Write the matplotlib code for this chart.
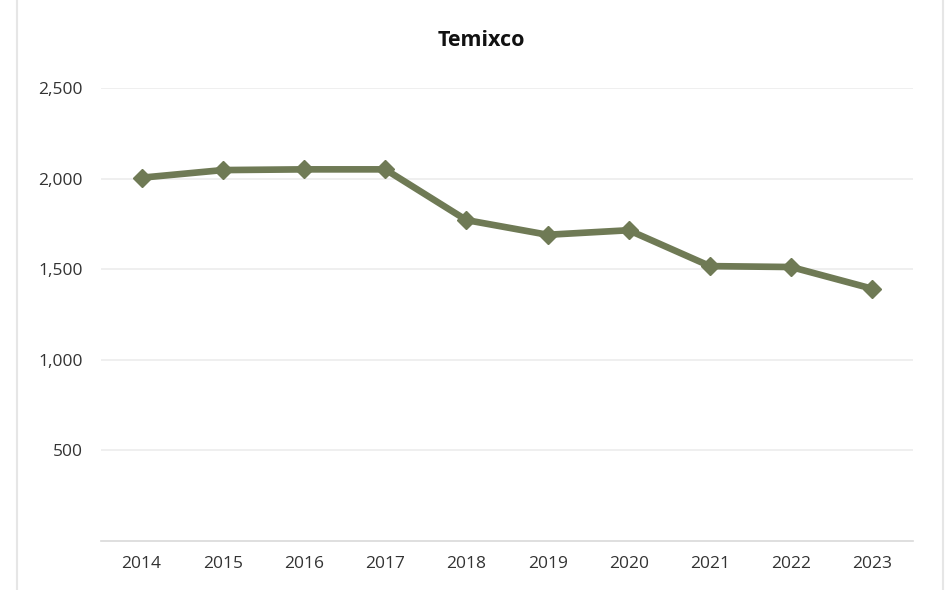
import matplotlib.pyplot as plt
from matplotlib.lines import Line2D
from matplotlib.ticker import FuncFormatter

anios = ['2014', '2015', '2016', '2017', '2018', '2019', '2020', '2021', '2022', '2023']
valores = [2005, 2047, 2051, 2051, 1771, 1690, 1715, 1517, 1512, 1392]
ticks_y = [500, 1000, 1500, 2000, 2500]

VERDE = '#6f7a55'

plt.rcParams['font.family'] = ['Open Sans', 'DejaVu Sans']

fig = plt.figure(figsize=(9.49, 5.90), dpi=100)
ax = fig.add_axes([101 / 949, 49 / 590, 812 / 949, 453 / 590])

x = range(len(anios))
ax.plot(x, valores, color=VERDE, linewidth=4.8, marker='D', markersize=9,
        markerfacecolor=VERDE, markeredgecolor=VERDE, solid_joinstyle='round', zorder=3)

ax.set_xlim(-0.5, len(anios) - 0.5)
ax.set_ylim(0, 2500)
ax.set_xticks(list(x))
ax.set_xticklabels(anios)
ax.set_yticks(ticks_y)
ax.yaxis.set_major_formatter(FuncFormatter(lambda v, p: f'{int(v):,}'))

ax.grid(axis='y', color='#ececec', linewidth=1.2)
ax.set_axisbelow(True)
for lado in ['top', 'right', 'left']:
    ax.spines[lado].set_visible(False)
ax.spines['bottom'].set_color('#d9d9d9')
ax.spines['bottom'].set_linewidth(1.2)

ax.tick_params(axis='both', length=0, labelsize=12.5, colors='#333333')
ax.tick_params(axis='y', pad=13)
ax.tick_params(axis='x', pad=11)

fig.text(481 / 949, 1 - 40 / 590, 'Temixco', ha='center', va='center',
         fontsize=15.5, fontweight='bold', color='#111111')

# borde del área del gráfico
for xb in [17 / 949, 943 / 949]:
    fig.add_artist(Line2D([xb, xb], [0, 1], transform=fig.transFigure,
                          color='#e6e6e6', linewidth=1.5))

fig.savefig('out.png', dpi=100)
